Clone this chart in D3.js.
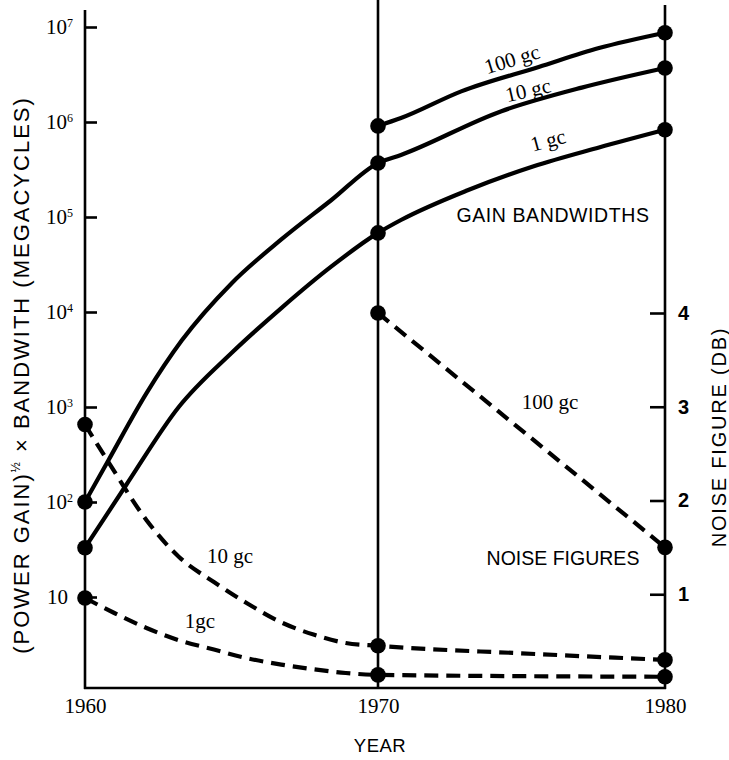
<!DOCTYPE html>
<html><head><meta charset="utf-8">
<script src="https://cdn.jsdelivr.net/npm/d3@7"></script>
<style>body{margin:0;background:#fff} svg{display:block}</style>
</head><body><svg id="c" width="729" height="760"></svg>
<script>
// ---- data ----
const years = [1960, 1970, 1980];
const gainTicks = [10, 1e2, 1e3, 1e4, 1e5, 1e6, 1e7];
const gainTickExp = ["", "2", "3", "4", "5", "6", "7"];
const noiseTicks = [1, 2, 3, 4];

// gain bandwidth curves [year, (power gain)^1/2 x bandwidth, Mc]
const gain100gc = [[1970, 9.1e5], [1970.8, 1.1e6], [1972.9, 2.1e6], [1975.6, 3.8e6], [1977.7, 6.0e6], [1980, 8.7e6]];
const gain10gc = [[1960, 100], [1960.8, 275], [1962.1, 1400], [1963.3, 5000], [1965, 2.0e4], [1966.7, 5.8e4], [1968.4, 1.5e5], [1970, 3.7e5], [1970.8, 4.5e5], [1974.3, 1.3e6], [1977.1, 2.3e6], [1980, 3.7e6]];
const gain1gc = [[1960, 33], [1961.4, 150], [1963.2, 1000], [1965, 3700], [1966.7, 1.1e4], [1968.4, 3.0e4], [1970, 6.8e4], [1970.8, 9.3e4], [1973.1, 1.9e5], [1975.4, 3.4e5], [1977.7, 5.4e5], [1980, 8.3e5]];
// noise figure curves [year, dB]
const noise100gc = [[1970, 4.0], [1980, 1.5]];
const noise10gc = [[1960, 2.81], [1960.8, 2.41], [1962.1, 1.79], [1963.2, 1.40], [1964.4, 1.13], [1965.5, 0.91], [1966.7, 0.70], [1967.8, 0.57], [1968.9, 0.48], [1970, 0.45], [1975, 0.37], [1980, 0.30]];
const noise1gc = [[1960, 0.96], [1961, 0.80], [1962.1, 0.64], [1963.2, 0.51], [1964.4, 0.41], [1965.5, 0.32], [1966.7, 0.25], [1967.8, 0.20], [1968.9, 0.16], [1970, 0.14], [1980, 0.12]];

// ---- scales ----
const x = d3.scaleLinear().domain(years).range([85, 378, 665]);
const yG = d3.scaleLog().domain([1, 1e7]).range([692, 27]);
const yN = d3.scaleLinear().domain([0, 4]).range([688, 313]);

const svg = d3.select("#c");
svg.append("rect").attr("width", 729).attr("height", 760).attr("fill", "#fff");

const SANS = "'Liberation Sans', Arial, Helvetica, sans-serif";
const SERIF = "'Liberation Serif', 'Times New Roman', serif";

// frame lines
const frame = svg.append("g").attr("stroke", "#000").attr("stroke-width", 2.6).attr("fill", "none");
frame.append("line").attr("x1", x(1960)).attr("x2", x(1960)).attr("y1", 10).attr("y2", 689);
frame.append("line").attr("x1", x(1970)).attr("x2", x(1970)).attr("y1", 0).attr("y2", 689);
frame.append("line").attr("x1", x(1980)).attr("x2", x(1980)).attr("y1", 5).attr("y2", 689);
frame.append("line").attr("x1", x(1960) - 1).attr("x2", x(1980) + 1).attr("y1", 688).attr("y2", 688);

// left axis
const gl = svg.append("g").attr("transform", `translate(${x(1960)},0)`)
  .call(d3.axisLeft(yG).tickValues(gainTicks).tickSize(-12).tickPadding(12).tickFormat(() => ""));
gl.select(".domain").remove();
gl.selectAll(".tick line").attr("stroke", "#000").attr("stroke-width", 2.6);
gl.selectAll(".tick text").each(function(d, i) {
  const t = d3.select(this).attr("font-family", SERIF).attr("font-size", 21).attr("fill", "#000");
  t.append("tspan").text("10");
  if (gainTickExp[i]) t.append("tspan").attr("font-size", 12).attr("dy", "-0.62em").text(gainTickExp[i]);
  else t.attr("x", -17);
});

// right axis
const gr = svg.append("g").attr("transform", `translate(${x(1980)},0)`)
  .call(d3.axisRight(yN).tickValues(noiseTicks).tickSize(-15).tickPadding(13).tickFormat(d3.format("d")));
gr.select(".domain").remove();
gr.selectAll(".tick line").attr("stroke", "#000").attr("stroke-width", 2.6);
gr.selectAll(".tick text").attr("font-family", SANS).attr("font-size", 20).attr("font-weight", "bold").attr("fill", "#000");

// bottom axis
const gb = svg.append("g").attr("transform", "translate(0,688)")
  .call(d3.axisBottom(x).tickValues(years).tickSize(0).tickPadding(10).tickFormat(d3.format("d")));
gb.select(".domain").remove();
gb.selectAll(".tick text").attr("font-family", SERIF).attr("font-size", 21).attr("fill", "#000");

// curves
const lineG = d3.line().x(d => x(d[0])).y(d => yG(d[1])).curve(d3.curveMonotoneX);
const lineN = d3.line().x(d => x(d[0])).y(d => yN(d[1])).curve(d3.curveMonotoneX);

const gainSeries = [gain100gc, gain10gc, gain1gc];
const noiseSeries = [noise100gc, noise10gc, noise1gc];

svg.append("g").selectAll("path").data(gainSeries).join("path")
  .attr("d", lineG).attr("fill", "none").attr("stroke", "#000").attr("stroke-width", 4.2)
  .attr("stroke-linejoin", "round");
svg.append("g").selectAll("path").data(noiseSeries).join("path")
  .attr("d", lineN).attr("fill", "none").attr("stroke", "#000").attr("stroke-width", 4.2)
  .attr("stroke-dasharray", "14,8");

// dots at 1960 / 1970 / 1980
const isKey = d => years.includes(d[0]);
svg.append("g").selectAll("circle").data(gainSeries.flatMap(s => s.filter(isKey))).join("circle")
  .attr("cx", d => x(d[0])).attr("cy", d => yG(d[1])).attr("r", 7.8).attr("fill", "#000");
svg.append("g").selectAll("circle").data(noiseSeries.flatMap(s => s.filter(isKey))).join("circle")
  .attr("cx", d => x(d[0])).attr("cy", d => yN(d[1])).attr("r", 7.8).attr("fill", "#000");

// labels
const lab = (txt, cx, cy, rot, font, size, ls) => svg.append("text")
  .attr("transform", `translate(${cx},${cy}) rotate(${rot})`)
  .attr("text-anchor", "middle").attr("dy", "0.35em").attr("letter-spacing", ls || 0)
  .attr("font-family", font).attr("font-size", size).attr("fill", "#000").text(txt);

lab("100 gc", 512, 59, -17, SERIF, 21);
lab("10 gc", 528, 90, -13, SERIF, 21);
lab("1 gc", 548, 140, -15, SERIF, 21);
lab("GAIN BANDWIDTHS", 553, 215, 0, SANS, 19.5, 0.6);
lab("100 gc", 550, 402, 0, SERIF, 21);
lab("NOISE FIGURES", 563, 558, 0, SANS, 19.5);
lab("10 gc", 230, 556, 0, SERIF, 21);
lab("1gc", 200, 621, 0, SERIF, 21);
lab("YEAR", 380, 746, 0, SANS, 18.5, 0.5);

// axis titles
const lt = svg.append("text").attr("transform", "translate(29,375) rotate(-90)")
  .attr("text-anchor", "middle").attr("font-family", SANS).attr("font-size", 22)
  .attr("letter-spacing", 2).attr("fill", "#000");
lt.append("tspan").text("(POWER GAIN)");
lt.append("tspan").attr("font-size", 12).attr("dy", -9).text("½");
lt.append("tspan").attr("dy", 9).text(" × BANDWITH (MEGACYCLES)");

svg.append("text").attr("transform", "translate(726,437) rotate(-90)")
  .attr("text-anchor", "middle").attr("font-family", SANS).attr("font-size", 20)
  .attr("letter-spacing", 1.8).attr("fill", "#000")
  .text("NOISE FIGURE (DB)");
</script></body></html>
